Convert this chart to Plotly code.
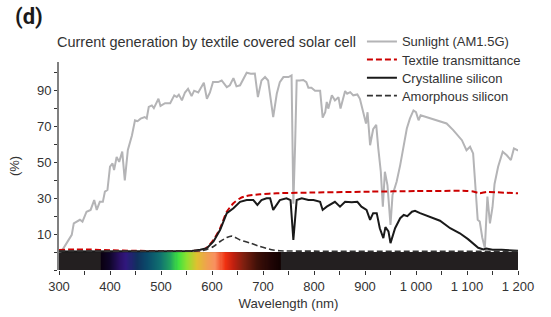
import plotly.graph_objects as go

# ---------------- data ----------------
sun_wl = [300, 305, 315, 325, 329, 335, 341, 346, 354, 362, 369, 374, 380, 386, 390, 395, 400, 405, 408, 413,
          418, 424, 429, 435, 443, 449, 454, 460, 468, 472, 476, 482, 486, 495, 499, 508, 518, 526, 531, 535,
          541, 547, 553, 560, 565, 573, 584, 590, 596, 602, 612, 619, 629, 635, 642, 648, 655, 668, 676, 684,
          690, 697, 704, 710, 720, 727, 733, 740, 750, 756, 759.5, 763, 766, 772, 779, 785, 789, 795, 802, 812,
          817, 822, 825, 828, 835, 841, 848, 852, 861, 865, 871, 877, 885, 890, 897, 902, 905, 910, 916, 922,
          926, 931, 935, 939, 944, 950, 954, 962, 969, 975, 982, 988, 995, 1000, 1005, 1009, 1021, 1040, 1060, 1073,
          1090, 1099, 1106, 1112, 1116, 1121, 1125, 1130, 1135, 1140, 1145, 1150, 1154, 1161, 1170, 1178, 1186, 1192, 1199,
          1200]
sun_val = [0, 0.5, 5, 9.6, 16, 17, 18, 17, 22.5, 23.5, 29, 23.5, 28, 28, 33.7, 34.6, 47.6, 49.4, 45.7, 53,
           50.3, 56, 40, 57, 65, 73.5, 73, 74.4, 75.3, 74.5, 81, 81.8, 80.3, 85.5, 81.5, 83, 83, 87.4, 86.5, 87.8,
           84.6, 89, 91, 87, 90, 89, 94.4, 85.5, 89, 94.8, 94.8, 95.7, 92, 93, 97, 92.4, 93, 100, 99.4, 99.6,
           86.4, 95.7, 97.6, 95.7, 75.3, 88.3, 94.8, 97.6, 97.6, 98.5, 27, 60, 95.7, 95.7, 96, 94.8, 91.6, 91.6, 90, 90,
           75, 78, 83.7, 80, 87.4, 84.6, 86.4, 80, 89.8, 88.3, 89.2, 87.4, 87.9, 85.5, 77.2, 71.7, 78, 59.6, 68.5, 71,
           58, 44.8, 25.3, 44.8, 37.4, 15.2, 31.8, 39.2, 48.5, 57.8, 68.9, 74.4, 79, 78, 73.5, 76.3, 75.3, 73.5, 71.7, 68,
           62.4, 56.8, 58.7, 55, 40, 18, 17, 8, 2.2, 31, 16, 25, 38, 47.6, 56, 54, 51.3, 57.8, 56.8,
           56.8]

tex_wl = [300, 330, 360, 400, 450, 550, 580, 590, 603, 616, 629, 642, 655, 668, 694, 727, 800, 910, 1000, 1099,
          1112, 1125, 1138, 1160, 1200]
tex_val = [1.2, 1.5, 1.4, 1.0, 0.7, 0.6, 1.0, 2.5, 6.8, 13.3, 22.5, 27.2, 30, 31.3, 32.2, 32.8, 33.2, 33.7, 34, 34.1,
           33.8, 32.8, 33.5, 33.3, 32.8]

csi_wl = [300, 400, 500, 560, 577, 590, 603, 616, 629, 642, 655, 668, 681, 689, 697, 707, 714, 720, 733, 746,
          754, 759.5, 766, 776, 789, 799, 812, 817, 825, 831, 841, 851, 861, 874, 885, 893, 903, 910, 916, 923,
          929, 936, 940, 946, 950, 959, 969, 976, 983, 992, 998, 1008, 1027, 1047, 1067, 1086, 1102, 1112, 1122, 1132,
          1138, 1150, 1168, 1200]
csi_val = [0.3, 0.3, 0.4, 0.6, 1.3, 2.2, 5.9, 12.4, 21.7, 24.4, 28, 29, 29, 26.3, 29, 30, 30, 23.5, 29, 30,
           29, 6.8, 29, 30, 29, 29, 28, 23.5, 25.3, 26.3, 28, 25.3, 28, 27.8, 28, 25.3, 23.5, 18, 21.7, 21.7,
           13.3, 7.8, 13.9, 11.5, 5, 13.3, 18.9, 20.7, 20, 22.5, 23, 21.7, 19.8, 17.5, 13.3, 10.5, 7.2, 5, 2.4, 1.5,
           2.0, 1.3, 1.3, 0.7]

asi_wl = [300, 500, 580, 590, 603, 616, 629, 639, 655, 675, 694, 717, 733, 800, 1200]
asi_val = [0.6, 0.5, 0.8, 1.5, 3.1, 5.9, 8.1, 8.9, 6.8, 5.0, 3.1, 1.3, 0.7, 0.5, 0.5]

# visible spectrum strip (wavelength, colour)
spec_stops = [(382, "#0a0010"), (400, "#10052a"), (420, "#2a1066"), (432, "#30187e"), (452, "#10305e"),
              (472, "#0a4a6a"), (498, "#107070"), (518, "#20a060"), (533, "#40e040"), (550, "#90e030"),
              (570, "#e0c030"), (590, "#f0a050"), (606, "#f89060"), (625, "#f03010"), (641, "#c02010"),
              (661, "#802010"), (688, "#401008"), (714, "#200505"), (734, "#100000")]
spec_wl = list(range(383, 734, 2))

x_tickvals = list(range(300, 1201, 50))
x_ticktext = ["300", "", "400", "", "500", "", "600", "", "700", "", "800", "", "900", "",
              "1 000", "", "1 100", "", "1 200"]
y_tickvals = list(range(-10, 101, 10))
y_ticktext = ["", "", "10", "", "30", "", "50", "", "70", "", "90", ""]

# ---------------- figure ----------------
smin, smax = spec_stops[0][0], spec_stops[-1][0]
colorscale = [[(w - smin) / (smax - smin), c] for w, c in spec_stops]

fig = go.Figure()
fig.add_trace(go.Heatmap(x=spec_wl, y0=-5, dy=10, z=[spec_wl], zmin=smin, zmax=smax,
                         colorscale=colorscale, showscale=False, hoverinfo="skip", showlegend=False))
fig.add_trace(go.Scatter(x=sun_wl, y=sun_val, mode="lines", name="Sunlight (AM1.5G)", legend="legend",
                         line=dict(color="#b4b4b6", width=2)))
fig.add_trace(go.Scatter(x=tex_wl, y=tex_val, mode="lines", name="Textile transmittance", legend="legend2",
                         line=dict(color="#cc0000", width=2, dash="6px,3px", shape="spline", smoothing=0.6)))
fig.add_trace(go.Scatter(x=csi_wl, y=csi_val, mode="lines", name="Crystalline silicon", legend="legend3",
                         line=dict(color="#1a1a1a", width=2)))
fig.add_trace(go.Scatter(x=asi_wl, y=asi_val, mode="lines", name="Amorphous silicon", legend="legend4",
                         line=dict(color="#333333", width=1.6, dash="6px,3px", shape="spline", smoothing=0.6)))

fig.add_shape(type="rect", xref="x", yref="y", x0=300, x1=1200, y0=-10, y1=0,
              fillcolor="#231f20", line=dict(width=0), layer="below")

font_fam = "Liberation Sans, Arial, sans-serif"
leg_common = dict(x=0.660, xanchor="left", yanchor="top", bgcolor="rgba(0,0,0,0)",
                  font=dict(size=13, color="#333333"), itemwidth=30)
fig.update_layout(
    width=551, height=317,
    margin=dict(l=59, r=33, t=62, b=47, autoexpand=False),
    paper_bgcolor="white", plot_bgcolor="white",
    font=dict(family=font_fam, size=13, color="#333333"),
    title=dict(text="Current generation by textile covered solar cell", xref="container", x=57 / 551,
               xanchor="left", yref="container", y=1 - 42 / 317, yanchor="middle",
               font=dict(size=14.5, color="#333333")),
    showlegend=True,
    legend=dict(y=1.171, **leg_common),
    legend2=dict(y=1.084, **leg_common),
    legend3=dict(y=0.996, **leg_common),
    legend4=dict(y=0.910, **leg_common),
    xaxis=dict(range=[300, 1200], tickvals=x_tickvals, ticktext=x_ticktext, ticks="outside",
               ticklen=4, tickcolor="#333333", showline=False, showgrid=False, zeroline=False,
               automargin=False,
               title=dict(text="Wavelength (nm)", standoff=6, font=dict(size=13.2)), tickfont=dict(size=13)),
    yaxis=dict(range=[-10, 106], tickvals=y_tickvals, ticktext=y_ticktext, ticks="outside",
               ticklen=3, tickcolor="#333333", showline=True, linecolor="#808080", linewidth=2,
               showgrid=False, zeroline=False, automargin=False,
               title=dict(text="(%)", standoff=14, font=dict(size=13)), tickfont=dict(size=13)),
    annotations=[dict(text="<b>(d)</b>", xref="paper", yref="paper", x=-0.1, y=1.221,
                      xanchor="left", yanchor="middle", showarrow=False,
                      font=dict(family="Roboto, sans-serif", size=22, color="#1a1a1a"))],
)

fig.write_html("out.html", config={"displayModeBar": False},
               post_script="document.body.style.margin='0px';")
